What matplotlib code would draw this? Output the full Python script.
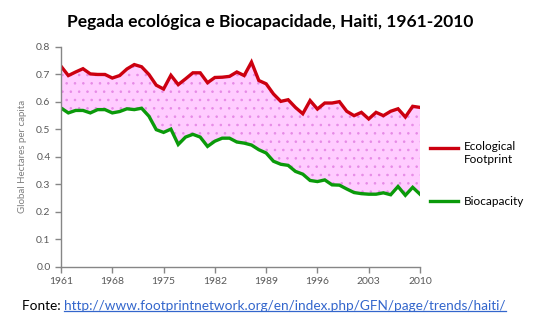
import matplotlib
matplotlib.use("Agg")
import matplotlib.pyplot as plt
from matplotlib.lines import Line2D
import numpy as np

years = list(range(1961, 2011))
footprint = [0.73, 0.696, 0.709, 0.721, 0.702, 0.70, 0.70, 0.687, 0.696, 0.72,
             0.736, 0.728, 0.70, 0.661, 0.647, 0.697, 0.663, 0.684, 0.706, 0.706,
             0.67, 0.689, 0.69, 0.693, 0.709, 0.696, 0.745, 0.678, 0.666, 0.629,
             0.602, 0.608, 0.58, 0.557, 0.605, 0.574, 0.596, 0.596, 0.601, 0.566,
             0.55, 0.562, 0.538, 0.562, 0.55, 0.566, 0.575, 0.545, 0.584, 0.58]
biocapacity = [0.578, 0.56, 0.569, 0.569, 0.56, 0.572, 0.572, 0.56, 0.565, 0.575,
               0.572, 0.577, 0.548, 0.499, 0.489, 0.501, 0.445, 0.472, 0.482, 0.472,
               0.438, 0.457, 0.468, 0.468, 0.454, 0.45, 0.443, 0.426, 0.414, 0.384,
               0.373, 0.369, 0.347, 0.337, 0.314, 0.31, 0.316, 0.298, 0.297, 0.283,
               0.27, 0.266, 0.264, 0.264, 0.269, 0.262, 0.292, 0.26, 0.289, 0.264]
xticks = list(range(1961, 2011, 7))
yticks = [0.0, 0.1, 0.2, 0.3, 0.4, 0.5, 0.6, 0.7, 0.8]

title = "Pegada ecológica e Biocapacidade, Haiti, 1961-2010"
ylabel = "Global Hectares per capita"
source_prefix = "Fonte: "
source_url = "http://www.footprintnetwork.org/en/index.php/GFN/page/trends/haiti/"

plt.rcParams['font.family'] = ['Lato', 'DejaVu Sans']
plt.rcParams['hatch.color'] = '#E68AE6'
plt.rcParams['hatch.linewidth'] = 0.6

W, H = 538, 331
fig = plt.figure(figsize=(W / 100, H / 100), dpi=100)
ax = fig.add_axes([61 / W, 1 - 266.7 / H, (420 - 61) / W, (266.7 - 47) / H])

red = '#CC0010'
green = '#0A9A0A'
ax.fill_between(years, biocapacity, footprint, facecolor='#FFCCFF', edgecolor='none',
                hatch='..', linewidth=0)
ax.plot(years, footprint, color=red, lw=2.4, solid_joinstyle='miter', label='Ecological\nFootprint')
ax.plot(years, biocapacity, color=green, lw=2.4, solid_joinstyle='miter', label='Biocapacity')

ax.set_xlim(1961, 2010)
ax.set_ylim(0, 0.8)
ax.set_xticks(xticks)
ax.set_yticks(yticks)
ax.set_yticklabels([f"{v:.1f}" for v in yticks])
for s in ['top', 'right']:
    ax.spines[s].set_visible(False)
for s in ['left', 'bottom']:
    ax.spines[s].set_color('#868686')
    ax.spines[s].set_linewidth(1.0)
ax.tick_params(axis='both', colors='#868686', labelcolor='#595959', labelsize=7.5,
               length=4, width=1.0)
ax.set_ylabel(ylabel, color='#7F7F7F', fontsize=7)
ax.yaxis.set_label_coords(-0.095, 0.5)

fig.text(270 / W, 1 - 22 / H, title, ha='center', va='center', fontsize=12.5,
         fontweight='bold', color='black')

# legend
fig.add_artist(Line2D([430 / W, 458 / W], [1 - 148 / H] * 2, color=red, lw=2.4))
fig.text(464 / W, 1 - 153 / H, 'Ecological\nFootprint', ha='left', va='center',
         fontsize=8.5, color='black', linespacing=1.25)
fig.add_artist(Line2D([430 / W, 458 / W], [1 - 201 / H] * 2, color=green, lw=2.4))
fig.text(464 / W, 1 - 201 / H, 'Biocapacity', ha='left', va='center',
         fontsize=8.5, color='black')

# source
t1 = fig.text(22 / W, 1 - 306 / H, source_prefix, ha='left', va='center',
              fontsize=9.8, color='black')
fig.canvas.draw()
r = fig.canvas.get_renderer()
bb = t1.get_window_extent(r)
x2 = bb.x1 / W
t2 = fig.text(x2, 1 - 306 / H, source_url, ha='left', va='center',
              fontsize=9.8, color='#3366CC')
fig.canvas.draw()
bb2 = t2.get_window_extent(r)
fig.add_artist(Line2D([bb2.x0 / W, bb2.x1 / W], [(bb2.y0 + 1) / H] * 2,
                      color='#3366CC', lw=0.9))

fig.savefig('out.png', dpi=100, facecolor='white')
